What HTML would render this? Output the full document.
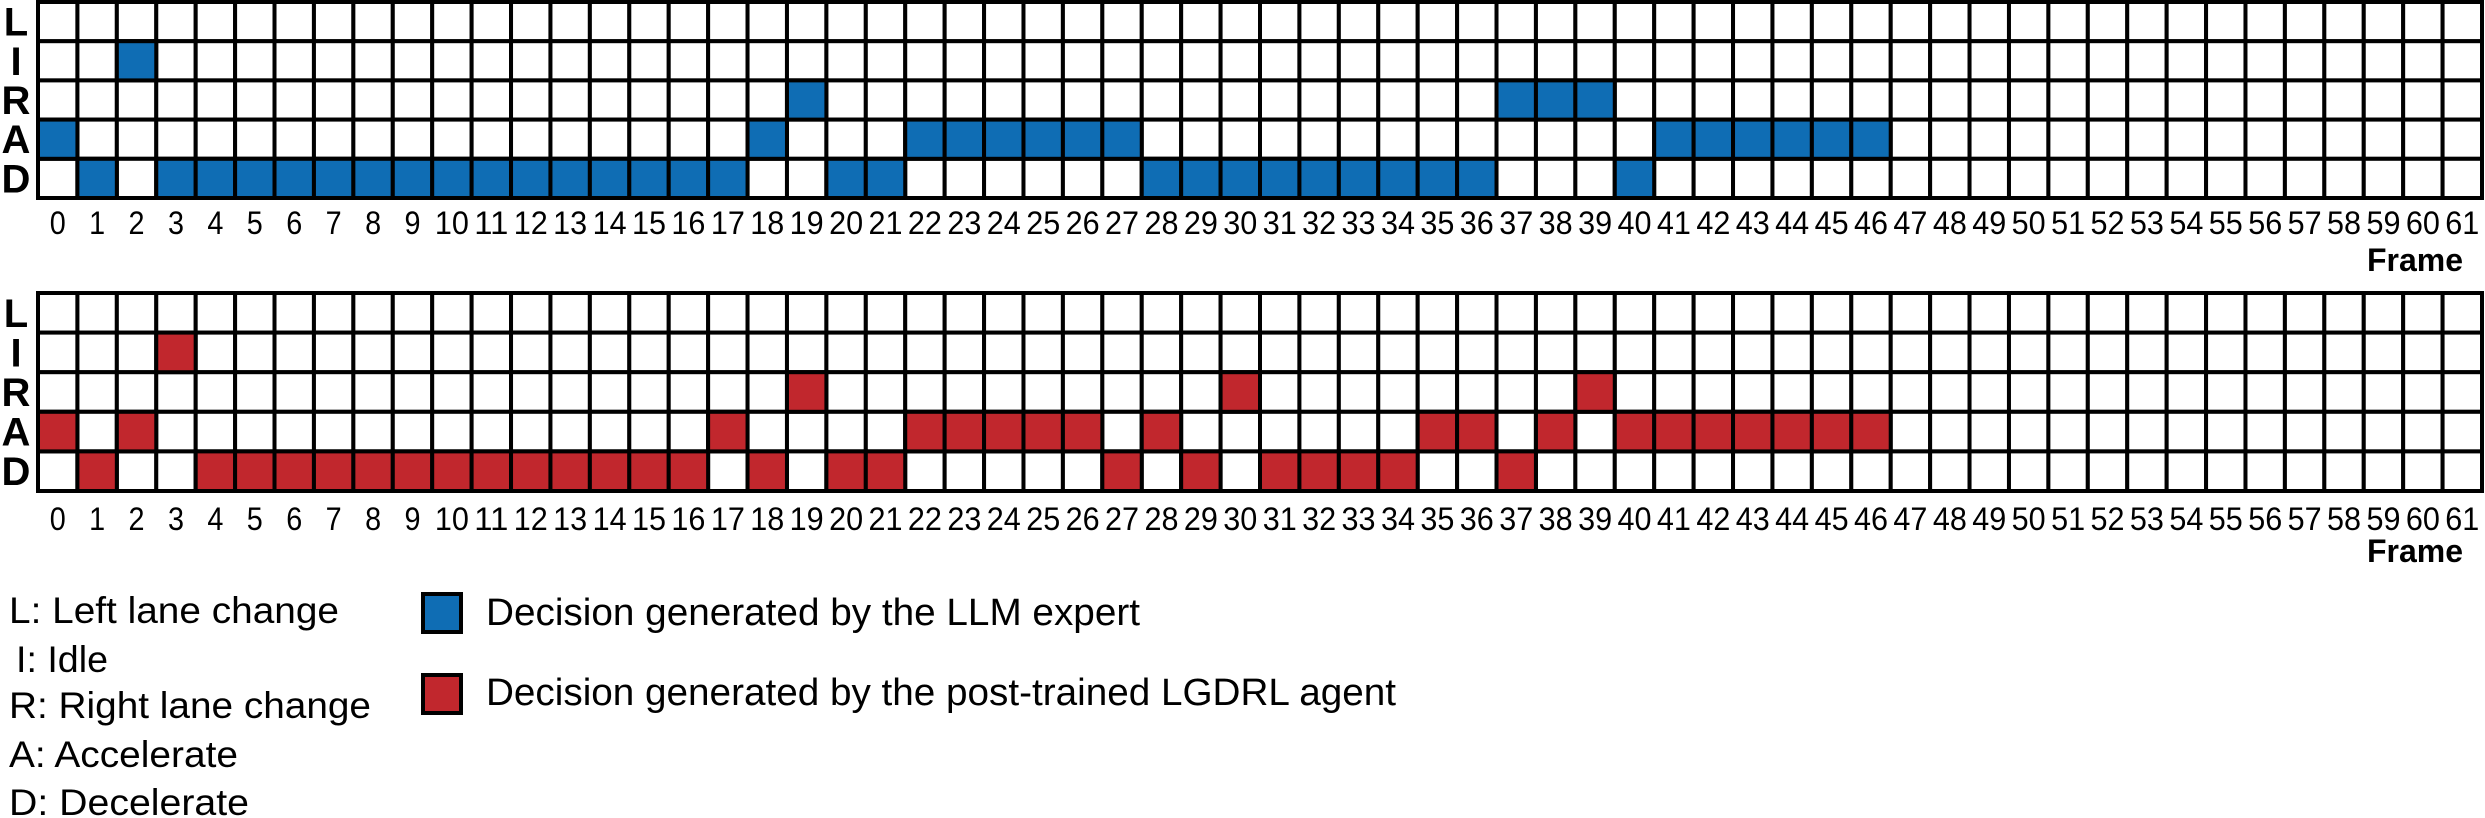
<!DOCTYPE html>
<html><head><meta charset="utf-8"><style>
html,body{margin:0;padding:0;background:#fff;}
svg{display:block;font-family:"Liberation Sans",Arial,sans-serif;}
</style></head><body>
<svg id="chart" width="2485" height="818" viewBox="0 0 2485 818" xmlns="http://www.w3.org/2000/svg">
<g id="top"></g>
<g id="bot"></g>
<g>
  <text x="9" y="623" font-size="37" textLength="330" lengthAdjust="spacingAndGlyphs">L: Left lane change</text>
  <text x="16" y="672" font-size="37" textLength="92" lengthAdjust="spacingAndGlyphs">I: Idle</text>
  <text x="9" y="718" font-size="37" textLength="362" lengthAdjust="spacingAndGlyphs">R: Right lane change</text>
  <text x="9" y="767" font-size="37" textLength="229" lengthAdjust="spacingAndGlyphs">A: Accelerate</text>
  <text x="9" y="815" font-size="37" textLength="240" lengthAdjust="spacingAndGlyphs">D: Decelerate</text>
  <rect x="423" y="594" width="38" height="38" fill="#0f6db4" stroke="#000" stroke-width="4"/>
  <text x="486" y="625" font-size="38" textLength="654" lengthAdjust="spacingAndGlyphs">Decision generated by the LLM expert</text>
  <rect x="423" y="675" width="38" height="38" fill="#c1272d" stroke="#000" stroke-width="4"/>
  <text x="486" y="705" font-size="38" textLength="910" lengthAdjust="spacingAndGlyphs">Decision generated by the post-trained LGDRL agent</text>
</g>
</svg>
<script>
const rowLabels = ["L","I","R","A","D"];
const frameCount = 62;
// decision row index per frame (0=L,1=I,2=R,3=A,4=D)
const llmDecisions = [3,4,1,4,4,4,4,4,4,4,4,4,4,4,4,4,4,4,3,2,4,4,3,3,3,3,3,3,4,4,4,4,4,4,4,4,4,2,2,2,4,3,3,3,3,3,3];
const agentDecisions = [3,4,3,1,4,4,4,4,4,4,4,4,4,4,4,4,4,3,4,2,4,4,3,3,3,3,3,4,3,4,2,4,4,4,4,3,3,4,3,2,3,3,3,3,3,3,3];

const NS = "http://www.w3.org/2000/svg";
const x0 = 38, x1 = 2482;
const cw = (x1 - x0) / frameCount;
const xScale = i => x0 + i * cw;

function mk(tag, attrs, parent){
  const e = document.createElementNS(NS, tag);
  for (const k in attrs) e.setAttribute(k, attrs[k]);
  parent.appendChild(e);
  return e;
}

function drawGrid(g, y0, y1, data, color, labelY, frameY){
  const rh = (y1 - y0) / rowLabels.length;
  const yScale = r => y0 + r * rh;
  rowLabels.forEach((l, r) => {
    const t = mk("text", {x: 16, y: yScale(r) + rh/2 + 14, "font-size": 40, "font-weight": "bold", "text-anchor": "middle"}, g);
    
    
    t.textContent = l;
  });
  for (let r = 0; r < rowLabels.length; r++){
    for (let c = 0; c < frameCount; c++){
      const e = mk("rect", {x: xScale(c), y: yScale(r), width: cw, height: rh, fill: "#fff", stroke: "#000", "stroke-width": 4}, g);
      
      
    }
  }
  data.forEach((r, c) => {
    if (r < 0) return;
    const e = mk("rect", {x: xScale(c), y: yScale(r), width: cw, height: rh, fill: color, stroke: "#000", "stroke-width": 4}, g);
    
    
  });
  for (let c = 0; c < frameCount; c++){
    const s = String(c);
    const attrs = {x: xScale(c) + cw/2, y: labelY, "font-size": 32, "text-anchor": "middle"};
    if (s.length > 1){ attrs.textLength = 34; attrs.lengthAdjust = "spacingAndGlyphs"; }
    else { attrs.textLength = 16; attrs.lengthAdjust = "spacingAndGlyphs"; }
    const t = mk("text", attrs, g);
    
    
    t.textContent = s;
  }
  const f = mk("text", {x: 2463, y: frameY, "font-size": 32, "font-weight": "bold", "text-anchor": "end"}, g);
  
  
  f.textContent = "Frame";
}

drawGrid(document.getElementById("top"), 2, 198, llmDecisions, "#0f6db4", 234, 271);
drawGrid(document.getElementById("bot"), 293, 491, agentDecisions, "#c1272d", 530, 562);
</script>
</body></html>
